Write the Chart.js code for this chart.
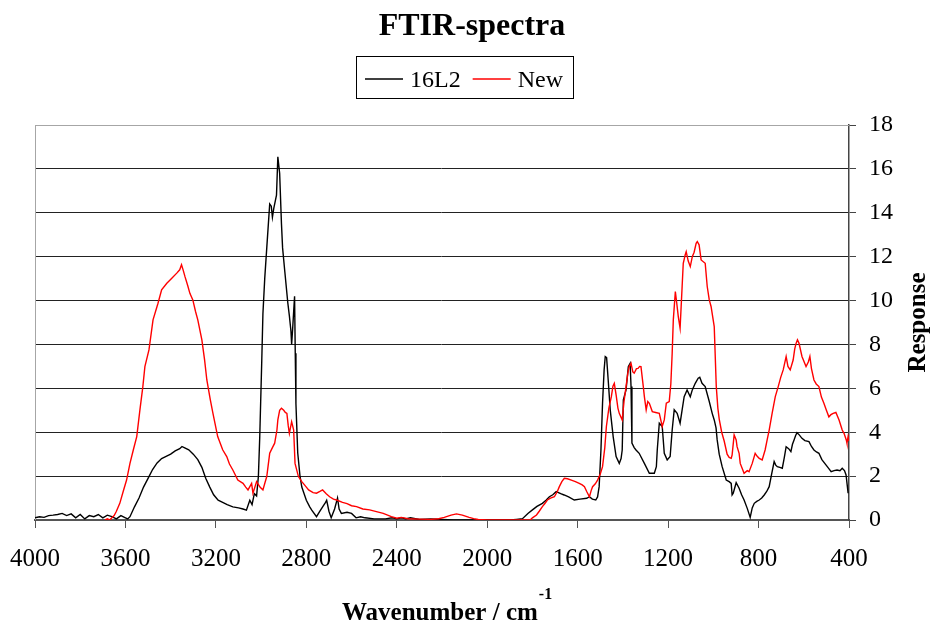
<!DOCTYPE html>
<html>
<head>
<meta charset="utf-8">
<title>FTIR-spectra</title>
<script src="https://cdn.jsdelivr.net/npm/chart.js@4.4.1/dist/chart.umd.min.js"></script>
<style>
  html, body { margin: 0; padding: 0; background: #fff; }
  canvas { display: block; }
</style>
</head>
<body>
<canvas id="ftir" width="930" height="625"></canvas>
<script>
// 16L2 spectrum (wavenumber / response)
const wn16L2 = [
  4000,3980,3960,3940,3920,3900,3880,3860,3840,3820,
  3800,3780,3760,3740,3720,3700,3680,3660,3640,3620,
  3600,3590,3580,3560,3540,3520,3500,3480,3460,3440,
  3420,3400,3380,3360,3350,3340,3320,3300,3280,3262,
  3245,3227,3210,3190,3170,3150,3125,3100,3080,3065,
  3050,3040,3030,3020,3012,3006,2997,2992,2984,2975,
  2962,2955,2950,2944,2932,2926,2918,2910,2905,2895,
  2882,2875,2868,2865,2860,2852,2849,2846,2838,2828,
  2820,2800,2785,2776,2755,2740,2728,2715,2710,2700,
  2690,2675,2662,2655,2645,2620,2600,2580,2560,2540,
  2500,2450,2420,2400,2380,2360,2340,2300,2250,2200,
  2150,2100,2050,2000,1950,1900,1870,1844,1820,1800,
  1780,1756,1740,1725,1710,1695,1675,1660,1640,1615,
  1590,1560,1548,1535,1520,1512,1505,1497,1490,1483,
  1478,1472,1465,1456,1443,1430,1416,1408,1403,1398,
  1386,1376,1368,1364,1360,1350,1342,1328,1305,1283,
  1261,1252,1248,1239,1226,1217,1204,1191,1182,1173,
  1160,1147,1138,1129,1116,1102,1093,1080,1067,1060,
  1050,1036,1018,1005,996,988,983,974,961,943,
  930,921,917,912,899,886,875,864,850,837,
  828,819,808,797,786,775,764,753,742,731,
  724,717,706,695,686,678,667,657,650,643,
  636,630,620,608,595,577,566,555,544,533,
  520,502,490,479,466,453,440,430,420,413,
  408,404
];
const resp16L2 = [
  0.10,0.15,0.12,0.20,0.22,0.25,0.30,0.20,0.28,0.10,
  0.25,0.05,0.20,0.15,0.25,0.10,0.22,0.15,0.05,0.20,
  0.10,0.05,0.15,0.60,1.00,1.50,1.90,2.30,2.60,2.80,
  2.90,3.00,3.15,3.25,3.35,3.30,3.20,3.00,2.75,2.40,
  1.90,1.50,1.15,0.90,0.80,0.70,0.60,0.55,0.50,0.45,
  0.90,0.70,1.20,1.10,2.00,3.80,7.30,9.40,11.00,12.40,
  14.40,14.30,13.80,14.20,14.80,16.55,15.80,13.50,12.40,11.30,
  9.90,9.30,8.60,8.00,8.80,10.20,7.60,5.30,3.05,2.00,
  1.50,0.90,0.60,0.45,0.15,0.40,0.60,0.80,0.90,0.40,
  0.10,0.50,1.00,0.50,0.30,0.35,0.30,0.10,0.15,0.10,
  0.05,0.05,0.10,0.05,0.10,0.05,0.10,0.02,0.05,0.02,
  0,0,0,0,0,0,0.03,0.06,0.30,0.46,
  0.62,0.76,0.90,1.06,1.15,1.29,1.20,1.14,1.05,0.91,
  0.95,0.99,1.06,0.95,0.91,1.05,1.52,3.20,5.32,6.84,
  7.45,7.40,6.38,5.02,3.80,2.89,2.58,2.80,3.19,5.47,
  5.93,6.99,7.14,6.08,3.50,3.30,3.19,3.04,2.58,2.13,
  2.13,2.43,3.19,4.41,4.26,3.04,2.74,2.89,4.10,5.02,
  4.86,4.41,5.02,5.62,5.93,5.62,5.93,6.23,6.46,6.50,
  6.23,6.08,5.40,4.86,4.56,4.20,3.65,3.00,2.43,1.82,
  1.75,1.67,1.14,1.22,1.70,1.45,1.15,0.91,0.53,0.12,
  0.55,0.76,0.85,0.91,1.00,1.14,1.30,1.52,2.10,2.66,
  2.50,2.43,2.40,2.36,2.85,3.34,3.25,3.12,3.45,3.65,
  3.85,3.98,3.88,3.72,3.62,3.57,3.35,3.19,3.10,3.04,
  2.75,2.51,2.35,2.20,2.25,2.28,2.25,2.36,2.25,2.05,
  1.60,1.22
];

// New spectrum
const wnNew = [
  3690,3680,3670,3660,3650,3640,3625,3610,3595,3580,
  3565,3550,3536,3523,3514,3496,3478,3456,3440,3417,
  3395,3373,3360,3352,3345,3337,3325,3315,3302,3290,
  3280,3262,3250,3240,3225,3213,3192,3170,3152,3140,
  3125,3103,3080,3068,3058,3042,3036,3020,3005,2992,
  2983,2975,2962,2950,2940,2930,2926,2918,2910,2900,
  2893,2886,2880,2875,2865,2856,2850,2835,2820,2800,
  2790,2770,2755,2740,2728,2712,2697,2680,2666,2640,
  2620,2600,2578,2550,2520,2490,2460,2424,2400,2380,
  2350,2300,2250,2215,2190,2160,2136,2110,2080,2060,
  2040,2000,1950,1900,1850,1810,1800,1782,1770,1756,
  1745,1734,1720,1703,1690,1681,1670,1659,1645,1628,
  1610,1593,1580,1570,1560,1548,1540,1534,1522,1512,
  1500,1490,1480,1473,1462,1451,1444,1438,1430,1422,
  1416,1403,1395,1386,1378,1372,1364,1356,1350,1340,
  1333,1326,1320,1310,1305,1297,1290,1283,1270,1255,
  1239,1226,1217,1208,1195,1188,1182,1177,1168,1162,
  1155,1147,1138,1133,1124,1120,1111,1102,1093,1085,
  1076,1071,1063,1054,1036,1027,1018,1010,996,987,
  980,974,963,952,939,930,921,917,908,899,
  895,886,881,864,850,842,828,815,806,797,
  784,771,762,753,740,726,713,702,691,678,
  670,660,647,640,634,628,621,608,590,580,
  573,566,555,545,533,522,511,500,489,480,
  470,458,444,430,422,412,409,404,400
];
const respNew = [
  0,0.05,0,0.10,0.20,0.40,0.76,1.30,1.82,2.58,
  3.20,3.80,5.02,6.08,6.99,7.75,9.12,9.88,10.49,10.79,
  11.02,11.25,11.40,11.63,11.40,11.10,10.70,10.33,10.03,9.50,
  9.12,8.21,7.30,6.38,5.50,4.86,3.80,3.20,2.89,2.55,
  2.28,1.82,1.67,1.50,1.37,1.67,1.22,1.75,1.50,1.37,
  1.70,1.98,3.04,3.30,3.50,4.10,4.56,5.00,5.09,5.00,
  4.90,4.86,4.30,3.95,4.48,4.10,2.58,1.98,1.75,1.50,
  1.37,1.25,1.22,1.30,1.37,1.20,1.06,0.95,0.91,0.80,
  0.75,0.65,0.61,0.50,0.46,0.38,0.30,0.15,0.08,0.12,
  0.06,0.04,0.03,0.06,0.12,0.22,0.28,0.22,0.12,0.06,
  0.02,0,0,0,0,0,0.10,0.23,0.40,0.61,
  0.75,0.91,1.00,1.06,1.30,1.52,1.75,1.90,1.88,1.82,
  1.75,1.67,1.60,1.52,1.30,1.06,1.35,1.52,1.65,1.82,
  2.10,2.43,3.30,4.26,5.10,5.62,6.10,6.23,5.70,5.10,
  4.86,4.56,5.40,6.08,6.70,6.99,7.14,6.75,6.69,6.90,
  6.91,7.00,6.99,6.10,5.62,5.02,5.40,5.32,4.94,4.90,
  4.86,4.26,4.56,5.32,5.40,6.20,7.60,9.12,10.41,9.90,
  9.27,8.74,10.64,11.70,12.10,12.23,11.80,11.55,12.00,12.20,
  12.61,12.69,12.54,11.85,11.70,10.64,10.03,9.73,8.81,6.08,
  5.10,4.60,4.00,3.60,3.00,2.85,2.81,2.96,3.88,3.65,
  3.34,3.04,2.58,2.13,2.25,2.20,2.58,3.04,2.90,2.81,
  2.74,3.19,3.65,4.10,4.86,5.62,6.08,6.50,6.84,7.45,
  7.00,6.84,7.29,7.80,8.05,8.21,8.05,7.45,6.99,7.20,
  7.45,6.90,6.38,6.20,6.08,5.60,5.32,5.00,4.70,4.80,
  4.86,4.90,4.56,4.10,3.95,3.65,3.50,3.80,3.60
];

const xRange = [400, 4000];
const xStep = 400;
const yRange = [0, 18];
const yStep = 2;

const serif = "'Liberation Serif', 'Times New Roman', serif";

function pairs(xs, ys) {
  return xs.map((x, i) => ({ x: x, y: ys[i] }));
}

// title, boxed legend, axis titles and the grey frame
const decor = {
  id: 'decor',
  beforeDatasetsDraw(chart) {
    const { ctx, chartArea: a } = chart;
    ctx.save();
    ctx.strokeStyle = '#a6a6a6';
    ctx.lineWidth = 1;
    ctx.beginPath();
    ctx.moveTo(a.left + 0.5, a.bottom);
    ctx.lineTo(a.left + 0.5, a.top + 0.5);
    ctx.lineTo(a.right, a.top + 0.5);
    ctx.stroke();
    ctx.restore();
  },
  afterDraw(chart) {
    const { ctx, chartArea: a } = chart;
    ctx.save();
    ctx.fillStyle = '#000';
    ctx.textBaseline = 'alphabetic';

    // chart title
    ctx.font = 'bold 32px ' + serif;
    ctx.textAlign = 'center';
    ctx.fillText('FTIR-spectra', 472, 35);

    // legend
    ctx.font = '24px ' + serif;
    ctx.textAlign = 'left';
    let x = 365;
    chart.data.datasets.forEach(ds => {
      ctx.strokeStyle = ds.borderColor;
      ctx.lineWidth = 1.5;
      ctx.beginPath();
      ctx.moveTo(x, 79);
      ctx.lineTo(x + 38, 79);
      ctx.stroke();
      x += 38 + 7;
      ctx.fillText(ds.label, x, 87);
      x += ctx.measureText(ds.label).width + 12;
    });
    ctx.strokeStyle = '#000';
    ctx.lineWidth = 1;
    ctx.strokeRect(356.5, 56.5, 217, 42);

    // x axis title with superscript
    ctx.font = 'bold 25px ' + serif;
    const main = 'Wavenumber / cm';
    ctx.fillText(main, 342, 620);
    const w = ctx.measureText(main).width;
    ctx.font = 'bold 16px ' + serif;
    ctx.fillText('-1', 342 + w + 1, 599);

    // y axis title on the right, reading upwards
    ctx.font = 'bold 25px ' + serif;
    ctx.translate(919, (a.top + a.bottom) / 2);
    ctx.rotate(-Math.PI / 2);
    ctx.textAlign = 'center';
    ctx.textBaseline = 'middle';
    ctx.fillText('Response', 0, 0);
    ctx.restore();
  }
};

new Chart(document.getElementById('ftir'), {
  type: 'line',
  data: {
    datasets: [
      {
        label: '16L2',
        data: pairs(wn16L2, resp16L2),
        borderColor: '#000000',
        backgroundColor: '#000000',
        borderWidth: 1.4,
        pointRadius: 0,
        tension: 0,
        fill: false,
        order: 1
      },
      {
        label: 'New',
        data: pairs(wnNew, respNew),
        borderColor: '#ff0000',
        backgroundColor: '#ff0000',
        borderWidth: 1.4,
        pointRadius: 0,
        tension: 0,
        fill: false,
        order: 0
      }
    ]
  },
  options: {
    responsive: false,
    animation: false,
    events: [],
    layout: { padding: { top: 125, left: 35, right: 0, bottom: 0 } },
    plugins: {
      legend: { display: false },
      title: { display: false },
      tooltip: { enabled: false }
    },
    scales: {
      x: {
        type: 'linear',
        reverse: true,
        min: xRange[0],
        max: xRange[1],
        afterFit(scale) {
          scale.height = 105;
          scale.paddingLeft = 0;
          scale.paddingRight = 0;
        },
        ticks: {
          stepSize: xStep,
          autoSkip: false,
          maxRotation: 0,
          padding: 16,
          color: '#000',
          font: { family: serif, size: 25 },
          callback: v => String(v)
        },
        grid: { drawOnChartArea: false, tickLength: 8, tickColor: '#555' },
        border: { color: '#555', width: 2 }
      },
      y: {
        position: 'right',
        min: yRange[0],
        max: yRange[1],
        afterFit(scale) {
          scale.width = 81;
          scale.paddingTop = 0;
          scale.paddingBottom = 0;
        },
        ticks: {
          stepSize: yStep,
          padding: 13,
          color: '#000',
          font: { family: serif, size: 24 },
          callback: v => String(v)
        },
        grid: {
          color: ctx => (ctx.tick && ctx.tick.value === yRange[1]) ? '#a6a6a6' : '#222',
          lineWidth: 1,
          tickLength: 7,
          tickColor: '#444'
        },
        border: { color: '#444', width: 1.5 }
      }
    }
  },
  plugins: [decor]
});
</script>
</body>
</html>
